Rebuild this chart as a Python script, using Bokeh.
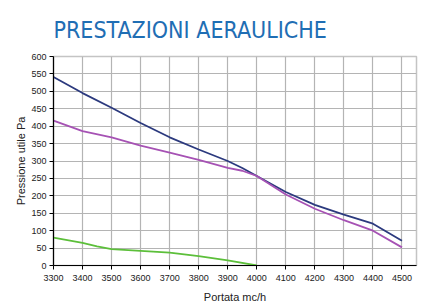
from bokeh.plotting import figure
from bokeh.models import Range1d, FixedTicker
from bokeh.embed import file_html
from bokeh.resources import INLINE

# Data
portata = [3300, 3400, 3500, 3600, 3700, 3800, 3900, 3950, 4000, 4100, 4200, 4300, 4400, 4500]
curva_blu = [541, 495, 453, 409, 368, 333, 300, 280, 257, 211, 174, 146, 120, 71]
curva_viola = [416, 386, 368, 344, 324, 303, 280, 272, 257, 204, 163, 130, 100, 52]
portata_verde = [3300, 3400, 3450, 3500, 3600, 3700, 3800, 3900, 4000]
curva_verde = [80, 65, 55, 47, 42, 37, 27, 15, 0]
x_ticks = [3300, 3400, 3500, 3600, 3700, 3800, 3900, 4000, 4100, 4200, 4300, 4400, 4500]
y_ticks = [0, 50, 100, 150, 200, 250, 300, 350, 400, 450, 500, 550, 600]

p = figure(width=422, height=305, output_backend="svg", toolbar_location=None,
           x_range=Range1d(3300, 4550), y_range=Range1d(0, 600),
           min_border_left=53, min_border_right=6, min_border_top=56, min_border_bottom=39)

p.title.text = "PRESTAZIONI AERAULICHE"
p.title.text_font = "DejaVu Sans Condensed"
p.title.text_font_size = "23px"
p.title.text_font_style = "normal"
p.title.text_color = "#1f6eb4"
p.title.align = "left"
p.title.offset = 0
p.title.text_line_height = 0.6
p.title.standoff = 28

p.line(portata, curva_blu, line_color="#2c3a7e", line_width=1.8)
p.line(portata, curva_viola, line_color="#a652b4", line_width=1.8)
p.line(portata_verde, curva_verde, line_color="#5cbf3a", line_width=1.8)

for ax in (p.xaxis[0], p.yaxis[0]):
    ax.axis_line_color = "black"
    ax.axis_line_width = 1.2
    ax.major_tick_line_color = "black"
    ax.major_tick_out = 4
    ax.major_tick_in = 0
    ax.minor_tick_line_color = None
    ax.major_label_text_font = "Liberation Sans"
    ax.major_label_text_font_size = "9px"
    ax.major_label_text_color = "#222222"
    ax.axis_label_text_font = "Liberation Sans"
    ax.axis_label_text_font_size = "11px"
    ax.axis_label_text_font_style = "normal"
    ax.axis_label_text_color = "#222222"

p.xaxis.ticker = FixedTicker(ticks=x_ticks)
p.yaxis.ticker = FixedTicker(ticks=y_ticks)
p.xaxis.axis_label = "Portata mc/h"
p.yaxis.axis_label = "Pressione utile Pa"
p.xaxis.major_label_standoff = 5
p.yaxis.major_label_standoff = 3
p.xaxis.axis_label_standoff = 7
p.yaxis.axis_label_standoff = 1

p.xgrid.ticker = FixedTicker(ticks=x_ticks)
p.ygrid.ticker = FixedTicker(ticks=y_ticks)
p.grid.grid_line_color = "#b4b4b4"
p.grid.grid_line_width = 1.2

p.outline_line_color = "#c4c4c4"
p.outline_line_width = 1.5

open("out.html", "w").write(file_html(p, INLINE))
